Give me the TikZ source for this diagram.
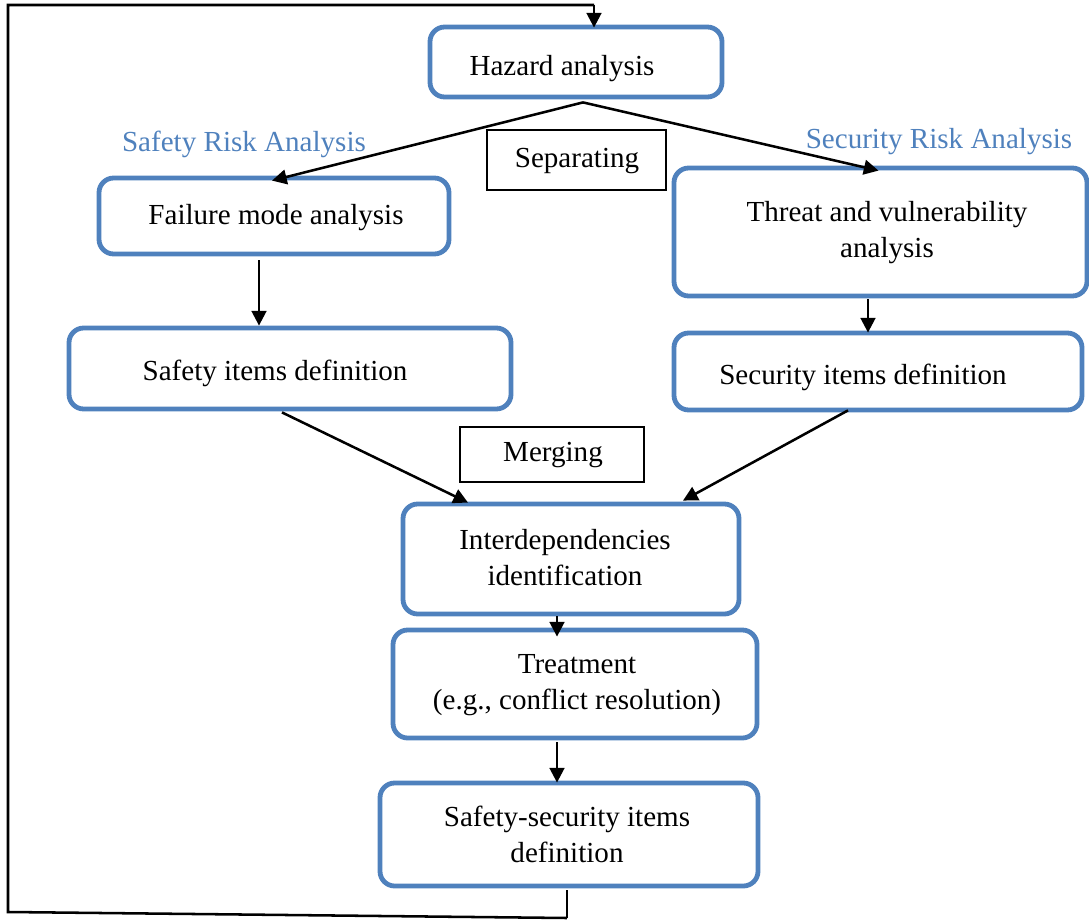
\documentclass[tikz,border=0pt]{standalone}
\usepackage{fontspec}
\setmainfont{Liberation Serif}
\usetikzlibrary{arrows.meta,calc}
\definecolor{boxblue}{HTML}{4F81BD}
\begin{document}
\begin{tikzpicture}[x=0.75pt,y=-0.75pt,
  bluebox/.style={draw=boxblue,line width=3.6pt,rounded corners=11pt,inner sep=0pt,fill=white},
  plainbox/.style={draw=black,line width=0.9pt,inner sep=0pt,fill=white},
  txt/.style={font=\fontsize{21.8}{27}\selectfont,align=center,inner sep=0pt,yshift=-2.2pt},
  bluetxt/.style={txt,text=boxblue},
  arr/.style={draw=black,line width=1.9pt,-{Triangle[length=11pt,width=11pt]}},
  line/.style={draw=black,line width=1.9pt}]
\useasboundingbox (0,0) rectangle (1089,924);
% boxes
\node[bluebox,minimum width=292*0.75pt,minimum height=70*0.75pt] (haz) at (576,62) {};
\node[bluebox,minimum width=350*0.75pt,minimum height=76*0.75pt] (fail) at (274,216) {};
\node[bluebox,minimum width=413*0.75pt,minimum height=128*0.75pt] (threat) at (880.5,232) {};
\node[bluebox,minimum width=442*0.75pt,minimum height=81*0.75pt] (sitems) at (290,368.5) {};
\node[bluebox,minimum width=408*0.75pt,minimum height=77*0.75pt] (secitems) at (878,371.5) {};
\node[bluebox,minimum width=336*0.75pt,minimum height=110*0.75pt] (inter) at (571,559) {};
\node[bluebox,minimum width=364*0.75pt,minimum height=108*0.75pt] (treat) at (575,684) {};
\node[bluebox,minimum width=378*0.75pt,minimum height=103*0.75pt] (ss) at (569,834.5) {};
\node[plainbox,minimum width=179*0.75pt,minimum height=60*0.75pt] (sep) at (576.5,160) {};
\node[plainbox,minimum width=184*0.75pt,minimum height=55*0.75pt] (merge) at (552,454.5) {};
% texts
\node[txt] (tHaz) at (562,66) {Hazard analysis};
\node[txt] (tFail) at (276,215) {Failure mode analysis};
\node[txt] (tThreat) at (887,230) {Threat and vulnerability\\analysis};
\node[txt] (tSitems) at (275,370) {Safety items definition};
\node[txt] (tSecitems) at (863,374) {Security items definition};
\node[txt] (tInter) at (565,555) {Interdependencies\\identification};
\node[txt] (tTreat) at (577,682) {Treatment\\(e.g., conflict resolution)};
\node[txt] (tSS) at (567,831) {Safety-security items\\definition};
\node[txt] (tSep) at (577,158) {Separating};
\node[txt] (tMerge) at (553,452) {Merging};
\node[bluetxt] (lSafety) at (244,141) {Safety Risk Analysis};
\node[bluetxt] (lSecurity) at (939,139) {Security Risk Analysis};
% connectors
\draw[arr] ($(haz.south)+(7,3)$) -- ($(fail.north)+(-2,5)$);
\draw[arr] ($(haz.south)+(7,3)$) -- ($(threat.north)+(-2,5)$);
\draw[arr] ($(fail.south)+(-15,4)$) -- ($(sitems.north)+(-31,0)$);
\draw[arr] ($(threat.south)+(-12.5,1)$) -- ($(secitems.north)+(-10,2)$);
\draw[arr] ($(sitems.south)+(-8,1)$) -- ($(inter.north)+(-103,1)$);
\draw[arr] ($(secitems.south)+(-30,-2)$) -- ($(inter.north)+(112,-1)$);
\draw[arr] ($(inter.south)+(-14,0)$) -- ($(treat.north)+(-18,9)$);
\draw[arr] ($(treat.south)+(-18,2)$) -- ($(ss.north)+(-12,2)$);
\coordinate (c1) at (567,918);
\coordinate (c2) at (8,912);
\coordinate (c3) at (8,5);
\coordinate (c4) at (594,5);
\draw[line] ($(ss.south)+(-2,2)$) -- (c1);
\draw[line,line join=miter] (c1) -- (c2) -- (c3) -- (c4);
\draw[arr] (c4) -- ($(haz.north)+(18,3)$);
\end{tikzpicture}
\end{document}
